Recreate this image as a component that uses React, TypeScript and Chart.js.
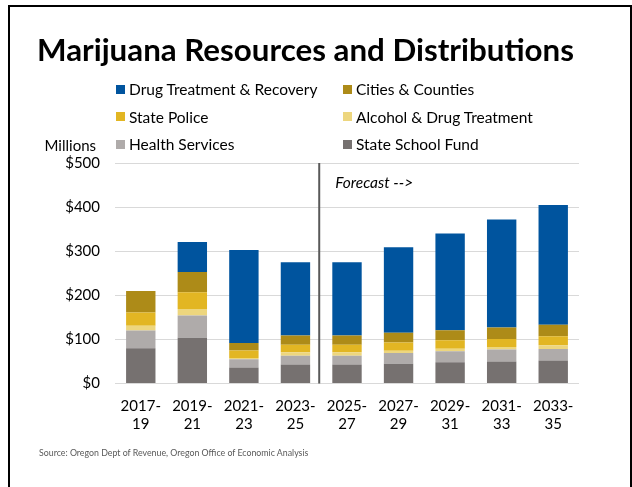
import React, { useEffect, useRef } from "react";
import { Chart, registerables } from "chart.js";

Chart.register(...registerables);

const categories: string[][] = [
  ["2017-", "19"], ["2019-", "21"], ["2021-", "23"], ["2023-", "25"], ["2025-", "27"],
  ["2027-", "29"], ["2029-", "31"], ["2031-", "33"], ["2033-", "35"],
];
const stateSchoolFund = [80, 104, 36, 43, 43, 45, 48, 50, 52];
const healthServices = [40, 50, 19, 20, 20, 24, 25, 27, 26];
const alcoholDrugTreatment = [11, 15, 3, 8, 8, 5, 6, 6, 9];
const statePolice = [30, 38, 17, 17, 17, 19, 19, 18, 20];
const citiesCounties = [49, 46, 17, 21, 21, 22, 23, 26, 26];
const drugTreatmentRecovery = [0, 68, 211, 166, 166, 194, 219, 245, 272];
const yTicks = [0, 100, 200, 300, 400, 500];

const COLORS = {
  drug: "#00549E",
  cities: "#AD8B18",
  police: "#E2B623",
  alcohol: "#EDD67E",
  health: "#AFABAA",
  school: "#767170",
};

const FONT = "Lato, 'Open Sans', sans-serif";

const legendItems = [
  { label: "Drug Treatment & Recovery", color: COLORS.drug, col: 0, row: 0 },
  { label: "Cities & Counties", color: COLORS.cities, col: 1, row: 0 },
  { label: "State Police", color: COLORS.police, col: 0, row: 1 },
  { label: "Alcohol & Drug Treatment", color: COLORS.alcohol, col: 1, row: 1 },
  { label: "Health Services", color: COLORS.health, col: 0, row: 2 },
  { label: "State School Fund", color: COLORS.school, col: 1, row: 2 },
];

const forecastPlugin = {
  id: "forecast",
  afterDatasetsDraw(chart: any) {
    const { ctx, chartArea, scales } = chart;
    const x = (scales.x.getPixelForValue(3) + scales.x.getPixelForValue(4)) / 2 - 2;
    ctx.save();
    ctx.strokeStyle = "#595959";
    ctx.lineWidth = 2;
    ctx.beginPath();
    ctx.moveTo(x, chartArea.top);
    ctx.lineTo(x, chartArea.bottom);
    ctx.stroke();
    ctx.fillStyle = "#000";
    ctx.font = `italic 15.5px ${FONT}`;
    ctx.textBaseline = "middle";
    ctx.textAlign = "left";
    ctx.fillText("Forecast -->", x + 16, scales.y.getPixelForValue(455));
    ctx.restore();
  },
};

export default function App() {
  const ref = useRef<HTMLCanvasElement>(null);
  useEffect(() => {
    if (!ref.current) return;
    const chart = new Chart(ref.current, {
      type: "bar",
      data: {
        labels: categories,
        datasets: [
          { label: "State School Fund", data: stateSchoolFund, backgroundColor: COLORS.school },
          { label: "Health Services", data: healthServices, backgroundColor: COLORS.health },
          { label: "Alcohol & Drug Treatment", data: alcoholDrugTreatment, backgroundColor: COLORS.alcohol },
          { label: "State Police", data: statePolice, backgroundColor: COLORS.police },
          { label: "Cities & Counties", data: citiesCounties, backgroundColor: COLORS.cities },
          { label: "Drug Treatment & Recovery", data: drugTreatmentRecovery, backgroundColor: COLORS.drug },
        ],
      },
      options: {
        responsive: false,
        animation: false,
        layout: { padding: { left: 0, right: 53, top: 163, bottom: 0 } },
        datasets: { bar: { barPercentage: 0.57, categoryPercentage: 1 } } as any,
        plugins: { legend: { display: false }, tooltip: { enabled: false }, title: { display: false } },
        scales: {
          x: {
            stacked: true,
            grid: { display: false, drawTicks: false },
            border: { display: false },
            ticks: { color: "#000", font: { family: FONT, size: 15 }, padding: 14, maxRotation: 0 },
            afterFit: (s: any) => { s.height = 103.5; },
          },
          y: {
            stacked: true,
            min: 0,
            max: 500,
            afterBuildTicks: (s: any) => { s.ticks = yTicks.map((v) => ({ value: v })); },
            grid: { color: "#D9D9D9", lineWidth: 1, drawTicks: false },
            border: { display: false },
            ticks: {
              color: "#000",
              font: { family: FONT, size: 15 },
              padding: 15,
              callback: (v: any) => "$" + v,
            },
            afterFit: (s: any) => { s.width = 115; },
          },
        },
      },
      plugins: [forecastPlugin],
    });
    return () => chart.destroy();
  }, []);

  return (
    <div style={{ position: "absolute", left: 0, top: 0, width: 632, height: 487, background: "#fff", overflow: "hidden", fontFamily: FONT }}>
      <div style={{ position: "absolute", left: 8, top: 5, width: 640, height: 520, borderTop: "2px solid #000", borderLeft: "2px solid #000", boxSizing: "border-box" }} />
      <div style={{ position: "absolute", right: 0, top: 5, width: 2, height: 482, background: "#000" }} />
      <canvas ref={ref} width={632} height={487} style={{ position: "absolute", left: 0, top: 0 }} />
      <div style={{ position: "absolute", left: 37, top: 29, lineHeight: "40px", fontSize: 31.3, fontWeight: 700, color: "#000", whiteSpace: "nowrap" }}>
        Marijuana Resources and Distributions
      </div>
      {legendItems.map((it) => (
        <div key={it.label} style={{ position: "absolute", left: it.col === 0 ? 116 : 343, top: 89 + it.row * 27.5 - 10, height: 20, lineHeight: "20px", fontSize: 15.5, color: "#000", whiteSpace: "nowrap", display: "flex", alignItems: "center" }}>
          <span style={{ display: "inline-block", width: 9, height: 9, background: it.color, marginRight: 4 }} />
          {it.label}
        </div>
      ))}
      <div style={{ position: "absolute", right: 632 - 96, top: 135, lineHeight: "20px", fontSize: 15, color: "#000", whiteSpace: "nowrap" }}>Millions</div>
      <div style={{ position: "absolute", left: 39, top: 447, lineHeight: "12px", fontSize: 8.8, color: "#595959", whiteSpace: "nowrap" }}>
        Source: Oregon Dept of Revenue, Oregon Office of Economic Analysis
      </div>
    </div>
  );
}
